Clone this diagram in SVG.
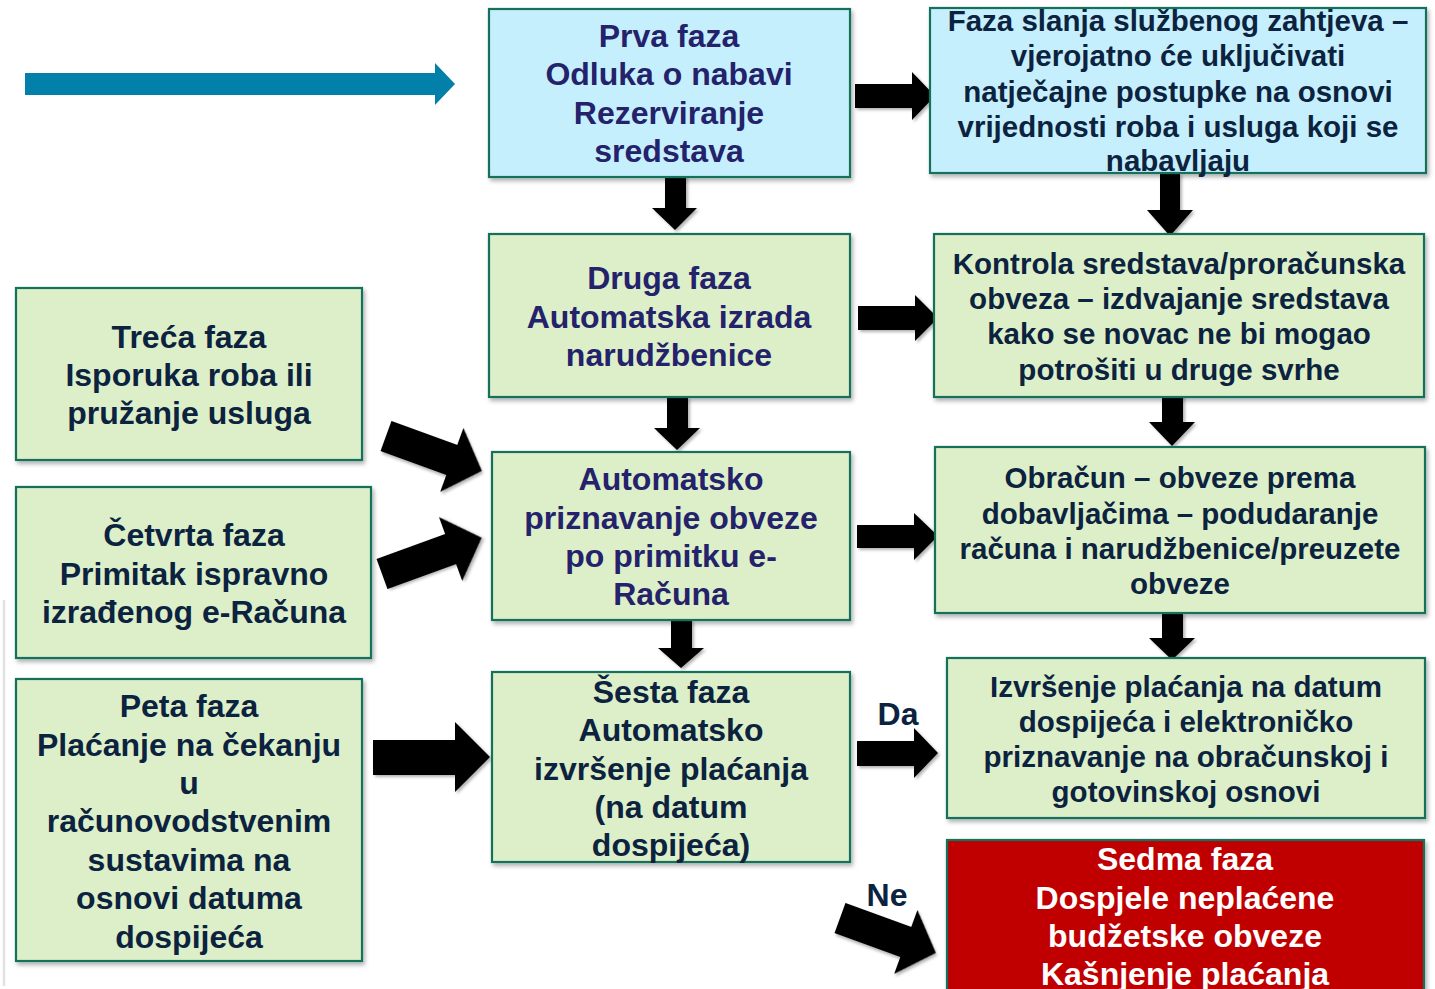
<svg xmlns="http://www.w3.org/2000/svg" width="1435" height="989" viewBox="0 0 1435 989">
<defs>
<filter id="sh" x="-5%" y="-5%" width="115%" height="120%">
<feDropShadow dx="2" dy="3" stdDeviation="2" flood-color="#000" flood-opacity="0.3"/>
</filter>
<filter id="ash" x="-10%" y="-10%" width="130%" height="130%">
<feDropShadow dx="2" dy="2" stdDeviation="1.5" flood-color="#000" flood-opacity="0.3"/>
</filter>
<style>
.box{stroke:#17715a;stroke-width:2.2;filter:url(#sh)}
.cy{fill:#c6effd}
.gr{fill:#ddefc8}
.rd{fill:#c00000}
text{font-family:"Liberation Sans",Arial,sans-serif;font-weight:bold;text-anchor:middle}
.big{font-size:32px}
.sm{font-size:29.5px}
.ind{fill:#23226b}
.nv{fill:#0c2340}
.wh{fill:#ffffff}
.arr{fill:#000;filter:url(#ash)}
</style>
</defs>
<rect width="1435" height="989" fill="#fff"/>
<line x1="4" y1="600" x2="4" y2="986" stroke="#e2e2e2" stroke-width="2.5"/>

<g id="connectors">
<polygon points="25,73 435,73 435,63 455,84 435,105 435,95 25,95" fill="#0380aa"/>
<polygon class="arr" points="855,84 912,84 912,72 935,96 912,120 912,108 855,108"/>
<polygon class="arr" points="665,175 686,175 686,208 697,208 675,230 652,208 665,208"/>
<polygon class="arr" points="1160,173 1180,173 1180,210 1193,210 1170,236 1147,210 1160,210"/>
<polygon class="arr" points="858,306 915,306 915,295 938,318 915,341 915,330 858,330"/>
<polygon class="arr" points="667,397 688,397 688,428 700,428 677,450 654,428 667,428"/>
<polygon class="arr" points="1162,390 1183,390 1183,422 1195,422 1172,446 1149,422 1162,422"/>
<polygon class="arr" points="857,525 914,525 914,513 938,536 914,560 914,548 857,548"/>
<polygon class="arr" points="0,-16 70,-16 70,-34 102,0 70,34 70,16 0,16" transform="translate(386,436) rotate(20)"/>
<polygon class="arr" points="0,-16 73,-16 73,-34 106,0 73,34 73,16 0,16" transform="translate(382,574) rotate(-20)"/>
<polygon class="arr" points="373,740 455,740 455,722 490,757 455,792 455,775 373,775"/>
<polygon class="arr" points="671,620 692,620 692,648 704,648 681,668 658,648 671,648"/>
<polygon class="arr" points="1162,613 1183,613 1183,638 1195,638 1172,660 1149,638 1162,638"/>
<polygon class="arr" points="857,741 914,741 914,728 938,753 914,778 914,766 857,766"/>
<polygon class="arr" points="0,-16 70,-16 70,-34 102,0 70,34 70,16 0,16" transform="translate(840,918) rotate(20)"/>
<text class="big nv" x="898" y="725">Da</text>
<text class="big nv" x="887" y="906">Ne</text>
</g>

<g id="n1">
<rect class="box cy" x="489" y="9" width="361" height="168"/>
<text class="big ind"><tspan x="669" y="47">Prva faza</tspan><tspan x="669" y="85">Odluka o nabavi</tspan><tspan x="669" y="124">Rezerviranje</tspan><tspan x="669" y="162">sredstava</tspan></text>
</g>
<g id="n2">
<rect class="box cy" x="930" y="8" width="496" height="165"/>
<text class="sm nv"><tspan x="1178" y="31">Faza slanja službenog zahtjeva –</tspan><tspan x="1178" y="66">vjerojatno će uključivati</tspan><tspan x="1178" y="102">natječajne postupke na osnovi</tspan><tspan x="1178" y="137">vrijednosti roba i usluga koji se</tspan><tspan x="1178" y="171">nabavljaju</tspan></text>
</g>
<g id="n3">
<rect class="box gr" x="489" y="234" width="361" height="163"/>
<text class="big ind"><tspan x="669" y="289">Druga faza</tspan><tspan x="669" y="328">Automatska izrada</tspan><tspan x="669" y="366">narudžbenice</tspan></text>
</g>
<g id="n4">
<rect class="box gr" x="934" y="234" width="490" height="163"/>
<text class="sm nv"><tspan x="1179" y="274">Kontrola sredstava/proračunska</tspan><tspan x="1179" y="309">obveza – izdvajanje sredstava</tspan><tspan x="1179" y="344">kako se novac ne bi mogao</tspan><tspan x="1179" y="380">potrošiti u druge svrhe</tspan></text>
</g>
<g id="n5">
<rect class="box gr" x="16" y="288" width="346" height="172"/>
<text class="big nv"><tspan x="189" y="348">Treća faza</tspan><tspan x="189" y="386">Isporuka roba ili</tspan><tspan x="189" y="424">pružanje usluga</tspan></text>
</g>
<g id="n6">
<rect class="box gr" x="492" y="452" width="358" height="168"/>
<text class="big ind"><tspan x="671" y="490">Automatsko</tspan><tspan x="671" y="529">priznavanje obveze</tspan><tspan x="671" y="567">po primitku e-</tspan><tspan x="671" y="605">Računa</tspan></text>
</g>
<g id="n7">
<rect class="box gr" x="935" y="447" width="490" height="166"/>
<text class="sm nv"><tspan x="1180" y="488">Obračun – obveze prema</tspan><tspan x="1180" y="524">dobavljačima – podudaranje</tspan><tspan x="1180" y="559">računa i narudžbenice/preuzete</tspan><tspan x="1180" y="594">obveze</tspan></text>
</g>
<g id="n8">
<rect class="box gr" x="16" y="487" width="355" height="171"/>
<text class="big nv"><tspan x="194" y="546">Četvrta faza</tspan><tspan x="194" y="585">Primitak ispravno</tspan><tspan x="194" y="623">izrađenog e-Računa</tspan></text>
</g>
<g id="n9">
<rect class="box gr" x="16" y="679" width="346" height="282"/>
<text class="big nv"><tspan x="189" y="717">Peta faza</tspan><tspan x="189" y="756">Plaćanje na čekanju</tspan><tspan x="189" y="794">u</tspan><tspan x="189" y="832">računovodstvenim</tspan><tspan x="189" y="871">sustavima na</tspan><tspan x="189" y="909">osnovi datuma</tspan><tspan x="189" y="948">dospijeća</tspan></text>
</g>
<g id="n10">
<rect class="box gr" x="492" y="672" width="358" height="190"/>
<text class="big nv"><tspan x="671" y="703">Šesta faza</tspan><tspan x="671" y="741">Automatsko</tspan><tspan x="671" y="780">izvršenje plaćanja</tspan><tspan x="671" y="818">(na datum</tspan><tspan x="671" y="856">dospijeća)</tspan></text>
</g>
<g id="n11">
<rect class="box gr" x="947" y="658" width="478" height="160"/>
<text class="sm nv"><tspan x="1186" y="697">Izvršenje plaćanja na datum</tspan><tspan x="1186" y="732">dospijeća i elektroničko</tspan><tspan x="1186" y="767">priznavanje na obračunskoj i</tspan><tspan x="1186" y="802">gotovinskoj osnovi</tspan></text>
</g>
<g id="n12">
<rect class="box rd" x="947" y="840" width="477" height="160"/>
<text class="big wh"><tspan x="1185" y="870">Sedma faza</tspan><tspan x="1185" y="909">Dospjele neplaćene</tspan><tspan x="1185" y="947">budžetske obveze</tspan><tspan x="1185" y="985">Kašnjenje plaćanja</tspan></text>
</g>
</svg>
